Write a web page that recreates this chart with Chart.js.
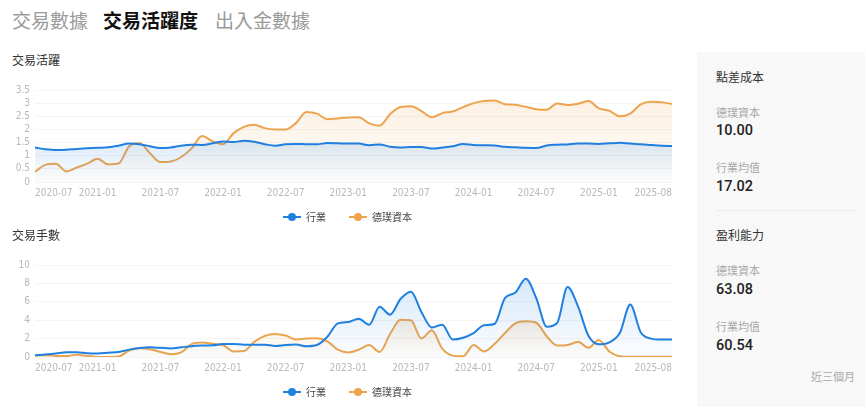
<!DOCTYPE html>
<html>
<head>
<meta charset="utf-8">
<script src="https://cdn.jsdelivr.net/npm/chart.js@4.4.1/dist/chart.umd.min.js"></script>
<style>
  body { margin: 0; width: 865px; height: 407px; overflow: hidden; background: #fff; position: relative;
         font-family: "Noto Sans CJK TC", "Noto Sans", sans-serif; }
  .abs { position: absolute; white-space: nowrap; }
  .tab { top: 7px; font-size: 19px; line-height: 26px; color: #9a9a9a; }
  .tab.on { color: #111; font-weight: bold; }
  .title { left: 12px; font-size: 12px; line-height: 16px; color: #333; }
  .box { position: absolute; left: 0; width: 690px; height: 153px; }
  .panel { position: absolute; left: 697px; top: 52px; width: 168px; height: 360px; background: #f8f8f8; }
  .p-head { left: 716px; font-size: 12px; line-height: 16px; color: #333; }
  .p-lab { left: 716px; font-size: 11px; line-height: 16px; color: #a8a8a8; }
  .p-num { left: 716px; font-size: 14.5px; line-height: 20px; color: #222; font-weight: 500;
           font-family: Roboto, "Noto Sans", sans-serif; }
  .p-line { left: 716px; top: 210px; width: 140px; height: 1px; background: #ececec; }
  .p-note { right: 10px; top: 368px; font-size: 11px; line-height: 16px; color: #a8a8a8; }
</style>
</head>
<body>
<div class="abs tab" style="left:12px">交易數據</div>
<div class="abs tab on" style="left:103px">交易活躍度</div>
<div class="abs tab" style="left:215px">出入金數據</div>

<div class="abs title" style="top:52px">交易活躍</div>
<div class="box" style="top:79px"><canvas id="activity"></canvas></div>

<div class="abs title" style="top:227px">交易手數</div>
<div class="box" style="top:254px"><canvas id="lots"></canvas></div>

<div class="panel"></div>
<div class="abs p-head" style="top:69px">點差成本</div>
<div class="abs p-lab" style="top:104px">德璞資本</div>
<div class="abs p-num" style="top:121px">10.00</div>
<div class="abs p-lab" style="top:159px">行業均值</div>
<div class="abs p-num" style="top:177px">17.02</div>
<div class="abs p-line"></div>
<div class="abs p-head" style="top:227px">盈利能力</div>
<div class="abs p-lab" style="top:262px">德璞資本</div>
<div class="abs p-num" style="top:280px">63.08</div>
<div class="abs p-lab" style="top:318px">行業均值</div>
<div class="abs p-num" style="top:336px">60.54</div>
<div class="abs p-note">近三個月</div>

<script>
'use strict';

const months = [
  '2020-07', '2020-08', '2020-09', '2020-10', '2020-11', '2020-12',
  '2021-01', '2021-02', '2021-03', '2021-04', '2021-05', '2021-06',
  '2021-07', '2021-08', '2021-09', '2021-10', '2021-11', '2021-12',
  '2022-01', '2022-02', '2022-03', '2022-04', '2022-05', '2022-06',
  '2022-07', '2022-08', '2022-09', '2022-10', '2022-11', '2022-12',
  '2023-01', '2023-02', '2023-03', '2023-04', '2023-05', '2023-06',
  '2023-07', '2023-08', '2023-09', '2023-10', '2023-11', '2023-12',
  '2024-01', '2024-02', '2024-03', '2024-04', '2024-05', '2024-06',
  '2024-07', '2024-08', '2024-09', '2024-10', '2024-11', '2024-12',
  '2025-01', '2025-02', '2025-03', '2025-04', '2025-05', '2025-06',
  '2025-07', '2025-08',
];

const tickLabels = ['2020-07', '2021-01', '2021-07', '2022-01', '2022-07', '2023-01',
  '2023-07', '2024-01', '2024-07', '2025-01', '2025-08'];

const seriesNames = ['行業', '德璞資本'];

// 交易活躍
const activityIndustry = [
  1.31, 1.25, 1.22, 1.23, 1.26, 1.28, 1.30, 1.32, 1.38, 1.46,
  1.44, 1.36, 1.29, 1.31, 1.38, 1.42, 1.41, 1.47, 1.54, 1.52,
  1.57, 1.53, 1.44, 1.38, 1.44, 1.45, 1.44, 1.44, 1.48, 1.47,
  1.46, 1.46, 1.40, 1.43, 1.34, 1.31, 1.33, 1.33, 1.27, 1.31,
  1.36, 1.45, 1.41, 1.40, 1.39, 1.34, 1.32, 1.30, 1.29, 1.39,
  1.42, 1.43, 1.46, 1.46, 1.45, 1.47, 1.49, 1.46, 1.44, 1.41,
  1.38, 1.37,
];
const activityDp = [
  0.39, 0.65, 0.69, 0.40, 0.55, 0.70, 0.88, 0.67, 0.70, 1.35,
  1.48, 1.10, 0.76, 0.78, 0.95, 1.28, 1.75, 1.55, 1.44, 1.85,
  2.10, 2.18, 2.05, 2.00, 2.00, 2.25, 2.66, 2.60, 2.39, 2.42,
  2.45, 2.46, 2.23, 2.14, 2.58, 2.85, 2.88, 2.70, 2.46, 2.62,
  2.68, 2.85, 3.00, 3.08, 3.10, 2.96, 2.94, 2.86, 2.77, 2.75,
  2.99, 2.93, 2.98, 3.08, 2.80, 2.71, 2.50, 2.60, 2.95, 3.05,
  3.03, 2.97,
];

// 交易手數
const lotsIndustry = [
  0.19, 0.27, 0.38, 0.52, 0.52, 0.40, 0.38, 0.46, 0.55, 0.80,
  0.97, 1.05, 1.00, 0.93, 1.05, 1.18, 1.24, 1.27, 1.40, 1.42,
  1.33, 1.32, 1.34, 1.20, 1.30, 1.35, 1.17, 1.30, 2.20, 3.65,
  3.80, 4.15, 3.50, 5.45, 4.60, 6.30, 7.10, 4.90, 3.20, 3.50,
  1.90, 2.10, 2.60, 3.45, 3.58, 6.40, 7.00, 8.50, 6.40, 3.30,
  3.70, 7.60, 5.50, 2.30, 1.38, 1.60, 2.60, 5.70, 2.70, 2.00,
  1.90, 1.90,
];
const lotsDp = [
  0.15, 0.20, 0.12, 0.10, 0.25, 0.12, 0.00, 0.00, 0.05, 0.70,
  0.95, 0.85, 0.55, 0.30, 0.50, 1.40, 1.57, 1.45, 1.30, 0.60,
  0.65, 1.65, 2.30, 2.50, 2.33, 1.90, 2.00, 2.03, 1.70, 0.80,
  0.50, 0.80, 1.30, 0.55, 2.50, 4.05, 4.00, 2.00, 2.90, 0.90,
  0.15, 0.08, 1.30, 0.60, 1.40, 2.60, 3.65, 3.88, 3.72, 2.26,
  1.24, 1.30, 1.65, 1.00, 1.85, 0.60, 0.08, 0.02, 0.02, 0.02,
  0.02, 0.02,
];

const BLUE = '#1f80e0';
const ORANGE = '#eca44e';
const AXIS_FONT = { family: '"DejaVu Sans Condensed", Roboto, sans-serif', size: 10 };

// line + dot marker for the legend (transparent strip on the left widens the gap between items)
function legendIcon(color) {
  const c = document.createElement('canvas');
  c.width = 33;
  c.height = 10;
  const g = c.getContext('2d');
  g.strokeStyle = color;
  g.lineWidth = 2;
  g.beginPath();
  g.moveTo(15, 5);
  g.lineTo(33, 5);
  g.stroke();
  g.fillStyle = color;
  g.beginPath();
  g.arc(24, 5, 4, 0, Math.PI * 2);
  g.fill();
  return c;
}

// vertical fade from the series' highest point down to the x axis
function areaFill(rgb, alpha) {
  return (ctx) => {
    const chart = ctx.chart;
    const area = chart.chartArea;
    if (!area) return `rgba(${rgb},0)`;
    const values = chart.data.datasets[ctx.datasetIndex].data;
    const top = chart.scales.y.getPixelForValue(Math.max(...values));
    const g = chart.ctx.createLinearGradient(0, top, 0, area.bottom);
    g.addColorStop(0, `rgba(${rgb},${alpha})`);
    g.addColorStop(1, `rgba(${rgb},0.01)`);
    return g;
  };
}

function series(label, data, color, rgb, alpha) {
  return {
    label,
    data,
    borderColor: color,
    borderWidth: 2,
    backgroundColor: areaFill(rgb, alpha),
    fill: 'origin',
    pointRadius: 0,
    pointHoverRadius: 0,
    pointStyle: legendIcon(color),
    cubicInterpolationMode: 'monotone',
  };
}

function trendChart(canvas, industry, dp, yMax, yStep, alpha) {
  return new Chart(canvas, {
    type: 'line',
    data: {
      labels: months,
      datasets: [
        series(seriesNames[0], industry, BLUE, '31,128,224', alpha),
        series(seriesNames[1], dp, ORANGE, '236,164,78', alpha),
      ],
    },
    options: {
      responsive: true,
      maintainAspectRatio: false,
      animation: false,
      layout: { padding: { top: 10, right: 18, left: 8, bottom: 0 } },
      plugins: {
        tooltip: { enabled: false },
        legend: {
          position: 'bottom',
          labels: {
            usePointStyle: true,
            pointStyleWidth: 33,
            padding: 8,
            color: '#444',
            font: { family: '"Noto Sans CJK TC", sans-serif', size: 10 },
          },
        },
      },
      scales: {
        x: {
          grid: { display: false, drawTicks: false },
          border: { display: false },
          ticks: {
            autoSkip: false,
            maxRotation: 0,
            align: 'inner',
            padding: 5,
            color: '#b8b8b8',
            font: AXIS_FONT,
            callback: (v, i) => (tickLabels.includes(months[i]) ? months[i] : ''),
          },
        },
        y: {
          min: 0,
          max: yMax,
          afterFit: (scale) => { scale.width = 27; },
          grid: { color: '#f4f4f4', drawTicks: false },
          border: { display: false },
          ticks: {
            autoSkip: false,
            stepSize: yStep,
            padding: 5,
            color: '#b8b8b8',
            font: AXIS_FONT,
            callback: (v) => String(v),
          },
        },
      },
    },
  });
}

trendChart(document.getElementById('activity'), activityIndustry, activityDp, 3.5, 0.5, 0.16);
trendChart(document.getElementById('lots'), lotsIndustry, lotsDp, 10, 2, 0.18);
</script>
</body>
</html>
